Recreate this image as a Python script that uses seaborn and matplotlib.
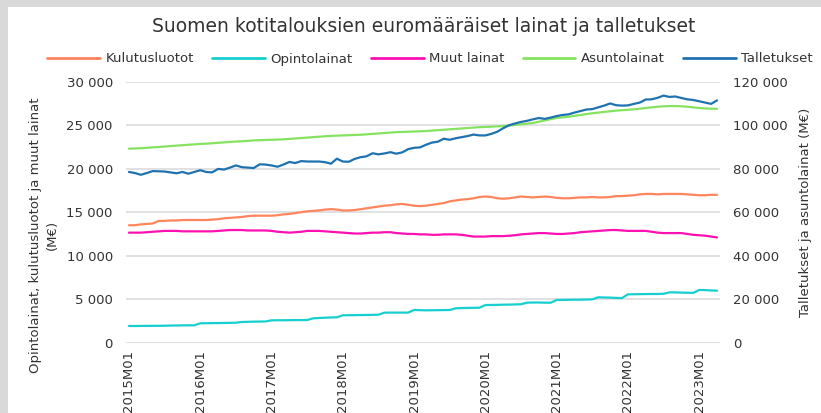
import pandas as pd
import matplotlib
matplotlib.use("Agg")
import matplotlib.pyplot as plt
from matplotlib.patches import Rectangle
from matplotlib.lines import Line2D
from matplotlib.ticker import FuncFormatter
import seaborn as sns

# Kuukaudet 2015M01 - 2023M04
months = [f"{y}M{m:02d}" for y in range(2015, 2024) for m in range(1, 13)][:100]

# Vasen akseli (M€)
kulutusluotot = [
    13500, 13500, 13600, 13650, 13700, 14000, 14000, 14050, 14050, 14100, 14100, 14100,
    14100, 14100, 14150, 14200, 14300, 14350, 14400, 14450, 14550, 14600, 14600, 14600,
    14600, 14650, 14750, 14800, 14900, 15000, 15100, 15150, 15200, 15300, 15350, 15300,
    15200, 15200, 15250, 15350, 15450, 15550, 15650, 15750, 15800, 15900, 15950, 15850,
    15750, 15700, 15750, 15850, 15950, 16050, 16250, 16350, 16450, 16500, 16600, 16750,
    16800, 16750, 16600, 16550, 16600, 16700, 16800, 16750, 16700, 16750, 16800, 16750,
    16650, 16600, 16600, 16650, 16700, 16700, 16750, 16700, 16700, 16750, 16850, 16850,
    16900, 16950, 17050, 17100, 17100, 17050, 17100, 17100, 17100, 17100, 17050, 17000,
    16950, 16950, 17000, 17000,
]
opintolainat = [
    1920, 1920, 1930, 1930, 1940, 1940, 1950, 1970, 1980, 1990, 2000, 2000,
    2230, 2240, 2250, 2260, 2270, 2280, 2300, 2380, 2400, 2420, 2430, 2440,
    2570, 2580, 2580, 2590, 2600, 2600, 2610, 2800, 2840, 2870, 2900, 2920,
    3150, 3160, 3170, 3180, 3190, 3200, 3220, 3450, 3460, 3460, 3460, 3460,
    3760, 3740, 3720, 3730, 3740, 3750, 3760, 3950, 3980, 4000, 4010, 4020,
    4330, 4340, 4350, 4370, 4380, 4400, 4420, 4600, 4620, 4620, 4600, 4600,
    4910, 4920, 4930, 4940, 4950, 4960, 4980, 5220, 5200, 5180, 5150, 5130,
    5560, 5570, 5580, 5590, 5600, 5600, 5620, 5790, 5780, 5760, 5740, 5730,
    6060, 6050, 6000, 5980,
]
muut_lainat = [
    12650, 12650, 12650, 12700, 12750, 12800, 12850, 12850, 12850, 12800, 12800, 12800,
    12800, 12800, 12800, 12850, 12900, 12950, 12950, 12950, 12900, 12900, 12900, 12900,
    12850, 12750, 12700, 12650, 12700, 12750, 12850, 12850, 12850, 12800, 12750, 12700,
    12650, 12600, 12550, 12550, 12600, 12650, 12650, 12700, 12700, 12600, 12550, 12500,
    12500, 12450, 12450, 12400, 12400, 12450, 12450, 12450, 12400, 12300, 12200, 12200,
    12200, 12250, 12250, 12250, 12300, 12350, 12450, 12500, 12550, 12600, 12600, 12550,
    12500, 12500, 12550, 12600, 12700, 12750, 12800, 12850, 12900, 12950, 12950, 12900,
    12850, 12850, 12850, 12850, 12750, 12650, 12600, 12600, 12600, 12600, 12500, 12400,
    12350, 12300, 12200, 12100,
]

# Oikea akseli (M€)
asuntolainat = [
    89200, 89300, 89400, 89600, 89800, 90000, 90200, 90400, 90600, 90800, 91000, 91200,
    91400, 91500, 91700, 91900, 92100, 92300, 92500, 92600, 92800, 93000, 93100, 93200,
    93300, 93400, 93500, 93700, 93900, 94100, 94300, 94500, 94700, 94900, 95100, 95200,
    95300, 95400, 95500, 95600, 95800, 96000, 96200, 96400, 96600, 96800, 96900, 97000,
    97100, 97200, 97300, 97500, 97700, 97900, 98100, 98300, 98500, 98700, 98900, 99100,
    99200, 99300, 99500, 99600, 99800, 100100, 100400, 100700, 101000, 101600, 102200, 102800,
    103300, 103600, 103900, 104300, 104700, 105100, 105500, 105800, 106100, 106400, 106700, 106900,
    107100, 107300, 107600, 107900, 108200, 108500, 108700, 108800, 108800, 108700, 108500, 108200,
    107900, 107700, 107600, 107500,
]
talletukset = [
    78500, 78000, 77200, 78000, 78900, 78800, 78700, 78300, 77900, 78500, 77700, 78500,
    79300, 78500, 78300, 79900, 79600, 80500, 81500, 80700, 80500, 80300, 82000, 81900,
    81500, 80900, 81900, 83100, 82600, 83500, 83300, 83300, 83300, 83000, 82300, 84600,
    83300, 83200, 84500, 85300, 85700, 87100, 86600, 87000, 87600, 86900, 87500, 89000,
    89600, 89800, 91000, 92000, 92400, 93800, 93300, 94000, 94500, 95000, 95700, 95300,
    95300, 96000, 97000, 98600, 100000, 100800, 101500, 102000, 102700, 103300, 102900, 103500,
    104200, 104700, 105000, 105800, 106500, 107200, 107400, 108200, 109000, 110000, 109200, 109000,
    109100, 109800, 110400, 111800, 111900, 112600, 113600, 113000, 113200, 112500, 111900, 111600,
    111000, 110400, 109800, 111400,
]

left_series = {"Kulutusluotot": kulutusluotot, "Opintolainat": opintolainat, "Muut lainat": muut_lainat}
right_series = {"Asuntolainat": asuntolainat, "Talletukset": talletukset}
legend_order = ["Kulutusluotot", "Opintolainat", "Muut lainat", "Asuntolainat", "Talletukset"]
colors = {
    "Kulutusluotot": "#ff855c",
    "Opintolainat": "#17cfcf",
    "Muut lainat": "#ff10b2",
    "Asuntolainat": "#86e35f",
    "Talletukset": "#1f72b0",
}

def to_long(series):
    rows = []
    for name, vals in series.items():
        for i, v in enumerate(vals):
            rows.append({"idx": i, "kuukausi": months[i], "sarja": name, "arvo": v})
    return pd.DataFrame(rows)

df_left = to_long(left_series)
df_right = to_long(right_series)

sns.set_style("white")
plt.rcParams["font.family"] = ["DejaVu Sans"]
text_col = "#333333"

W, H = 821, 413
fig = plt.figure(figsize=(W / 100, H / 100), dpi=100, facecolor="#d9d9d9")
fig.add_artist(Rectangle((8 / W, 0), 1, 1 - 7 / H, transform=fig.transFigure,
                         facecolor="white", edgecolor="none", zorder=0))

ax = fig.add_axes([126 / W, 1 - 342.7 / H, (720 - 126) / W, (342.7 - 81.7) / H])
ax.patch.set_alpha(0)
ax2 = ax.twinx()

sns.lineplot(data=df_left, x="idx", y="arvo", hue="sarja", palette=colors,
             linewidth=1.6, ax=ax, legend=False)
sns.lineplot(data=df_right, x="idx", y="arvo", hue="sarja", palette=colors,
             linewidth=1.6, ax=ax2, legend=False)

fmt = FuncFormatter(lambda v, p: f"{v:,.0f}".replace(",", " "))
ax.set_xlim(-0.5, len(months) - 0.5)
ax.set_ylim(0, 30000)
ax.set_yticks(range(0, 30001, 5000))
ax.yaxis.set_major_formatter(fmt)
ax2.set_ylim(0, 120000)
ax2.set_yticks(range(0, 120001, 20000))
ax2.yaxis.set_major_formatter(fmt)

ticks = list(range(0, len(months), 12))
ax.set_xticks(ticks)
ax.set_xticklabels([months[t] for t in ticks], rotation=90)

ax.grid(axis="y", color="#dcdcdf", linewidth=1.2)
ax.grid(axis="x", visible=False)
ax2.grid(False)
for a in (ax, ax2):
    for s in a.spines.values():
        s.set_visible(False)
    a.set_xlabel("")
    a.set_ylabel("")
ax.tick_params(axis="y", length=0, pad=9.5, labelsize=9.5, labelcolor=text_col)
ax2.tick_params(axis="y", length=0, pad=9.5, labelsize=9.5, labelcolor=text_col)
ax.tick_params(axis="x", length=0, pad=5, labelsize=9.5, labelcolor=text_col)

fig.text(424 / W, 1 - 27 / H, "Suomen kotitalouksien euromääräiset lainat ja talletukset",
         ha="center", va="center", fontsize=13.5, color=text_col)
fig.text(44 / W, 1 - 235 / H, "Opintolainat, kulutusluotot ja muut lainat\n(M€)",
         ha="center", va="center", rotation=90, fontsize=9.5, color=text_col, linespacing=1.4)
fig.text(805 / W, 1 - 212 / H, "Talletukset ja asuntolainat (M€)",
         ha="center", va="center", rotation=90, fontsize=9.5, color=text_col)

handles = [Line2D([], [], color=colors[n], linewidth=2) for n in legend_order]
fig.legend(handles, legend_order, loc="center", bbox_to_anchor=(430 / W, 1 - 59 / H),
           ncol=5, frameon=False, fontsize=9.5, handlelength=4.0, handletextpad=0.4,
           columnspacing=1.4, labelcolor=text_col)

fig.savefig("out.png", dpi=100, facecolor=fig.get_facecolor())
